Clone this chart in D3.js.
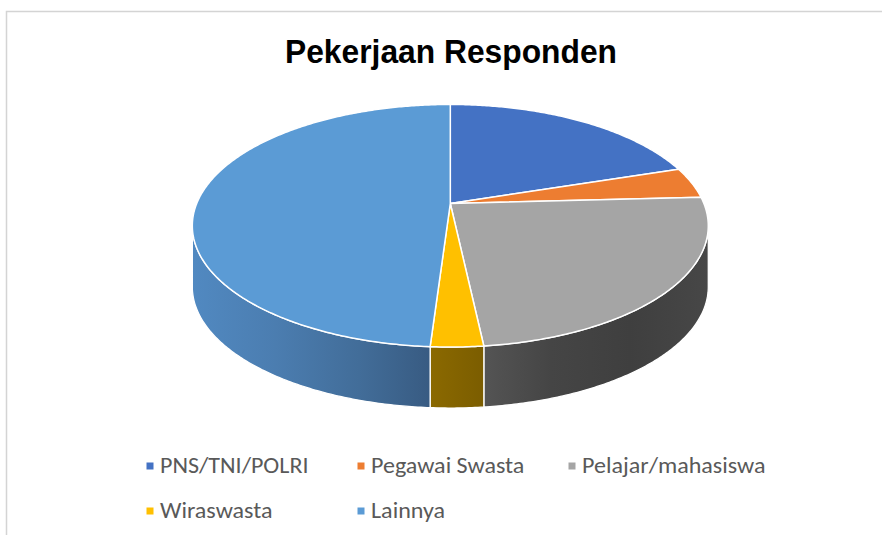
<!DOCTYPE html>
<html>
<head>
<meta charset="utf-8">
<script src="https://cdn.jsdelivr.net/npm/d3@7"></script>
<style>
  html, body { margin: 0; padding: 0; background: #ffffff; }
  svg { display: block; }
</style>
</head>
<body>
<svg id="chart" width="882" height="535"></svg>
<script>
// ---- data ----
const categories = ["PNS/TNI/POLRI", "Pegawai Swasta", "Pelajar/mahasiswa", "Wiraswasta", "Lainnya"];
const values = [29, 6, 35, 4, 71];
const title = "Pekerjaan Responden";

// ---- styles ----
const topColors = ["#4472C4", "#ED7D31", "#A5A5A5", "#FFC000", "#5B9BD5"];
const sideStops = [
  [["0", "#3a5e9c"], ["1", "#2e4c80"]],
  [["0", "#a8561f"], ["1", "#8f4818"]],
  [["0", "#545454"], ["0.3", "#454545"], ["0.65", "#3f3f3f"], ["1", "#474747"]],
  [["0", "#8b6900"], ["1", "#7b5d00"]],
  [["0", "#5189c1"], ["0.35", "#4b7db0"], ["0.7", "#426d99"], ["1", "#385b82"]]
];

const svg = d3.select("#chart");

// chart area border (only top/left visible in frame)
svg.append("rect")
  .attr("x", 6.5).attr("y", 11.5)
  .attr("width", 1000).attr("height", 1000)
  .attr("fill", "none").attr("stroke", "#d4d4d4").attr("stroke-width", 1.5);

// title
svg.append("text")
  .attr("x", 451).attr("y", 63)
  .attr("text-anchor", "middle")
  .attr("font-family", "Liberation Sans, Arial, sans-serif")
  .attr("font-weight", "bold")
  .attr("font-size", 33)
  .attr("textLength", 332)
  .attr("lengthAdjust", "spacingAndGlyphs")
  .attr("fill", "#000")
  .text(title);

// ---- 3D pie with perspective projection ----
const cx = 450.3, cy = 203.5, a = 253.6, b = 117.2, k = 0.1835, depth = 61;
function proj(theta, dz) {
  const X = Math.sin(theta), Y = -Math.cos(theta);
  const w = 1 - k * Y;
  return [cx + a * X / w, cy + b * Y / w + (dz || 0)];
}
function arcPts(a0, a1, dz) {
  const n = Math.max(2, Math.ceil(Math.abs(a1 - a0) / 0.01));
  return d3.range(n + 1).map(i => proj(a0 + (a1 - a0) * i / n, dz));
}
const line = d3.line();

const pie = d3.pie().sort(null).value(d => d);
const arcs = pie(values);

const defs = svg.append("defs");
const visLo = Math.acos(-k), visHi = 2 * Math.PI - Math.acos(-k);

const sideG = svg.append("g");
arcs.forEach((d, i) => {
  const s = Math.max(d.startAngle, visLo), e = Math.min(d.endAngle, visHi);
  if (e <= s) return;
  const topPts = arcPts(s, e, 0);
  const botPts = arcPts(e, s, depth);
  const xs = topPts.map(p => p[0]);
  const gid = "side" + i;
  const g = defs.append("linearGradient").attr("id", gid)
    .attr("gradientUnits", "userSpaceOnUse")
    .attr("x1", d3.min(xs)).attr("x2", d3.max(xs)).attr("y1", 0).attr("y2", 0);
  sideStops[i].forEach(st => g.append("stop").attr("offset", st[0]).attr("stop-color", st[1]));
  sideG.append("path")
    .attr("d", line(topPts.concat(botPts)) + "Z")
    .attr("fill", "url(#" + gid + ")")
    .attr("stroke", "#ffffff").attr("stroke-width", 1.3).attr("stroke-linejoin", "round");
});

const topG = svg.append("g");
arcs.forEach((d, i) => {
  const pts = [[cx, cy]].concat(arcPts(d.startAngle, d.endAngle, 0));
  topG.append("path")
    .attr("d", line(pts) + "Z")
    .attr("fill", topColors[i])
    .attr("stroke", "#ffffff").attr("stroke-width", 1.5).attr("stroke-linejoin", "round");
});

// ---- legend ----
const legX = [150, 361, 572], legY = [466, 511];
const lg = svg.append("g")
  .attr("font-family", "Carlito, Calibri, 'Noto Sans', sans-serif")
  .attr("font-size", 21.5)
  .attr("fill", "#595959");
categories.forEach((c, i) => {
  const col = i % 3, row = Math.floor(i / 3);
  const x = legX[col], y = legY[row];
  lg.append("rect").attr("x", x - 3.5).attr("y", y - 3.5).attr("width", 7).attr("height", 7)
    .attr("fill", topColors[i]);
  lg.append("text")
    .attr("transform", `translate(${x + 10},${y + 7}) scale(1.12,1)`)
    .text(c);
});
</script>
</body>
</html>
